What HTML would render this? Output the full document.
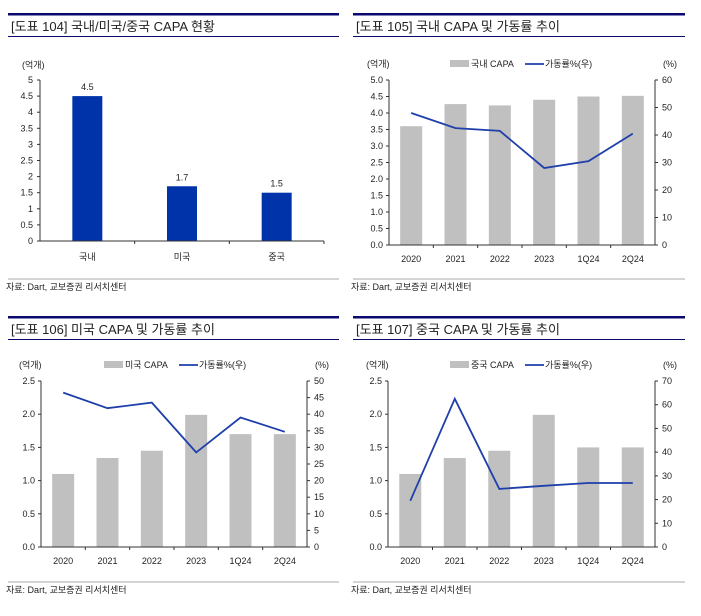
<!DOCTYPE html>
<html><head><meta charset="utf-8">
<style>
html,body{margin:0;padding:0;background:#fff;}
svg{display:block;font-family:"Liberation Sans","Noto Sans CJK KR",sans-serif;}
</style></head>
<body>
<svg id="s" width="701" height="616" viewBox="0 0 701 616"></svg>
<script>
// ---- data ----
const p1Categories = ["국내","미국","중국"];
const p1Values = [4.5,1.7,1.5];
const p1Ticks = ["0","0.5","1","1.5","2","2.5","3","3.5","4","4.5","5"];

const periods = ["2020","2021","2022","2023","1Q24","2Q24"];
const krCapa = [3.6,4.27,4.23,4.4,4.5,4.52];
const krRate = [48,42.5,41.5,28,30.5,40.5];
const usCapa = [1.1,1.34,1.45,1.99,1.7,1.7];
const usRate = [46.5,41.8,43.5,28.5,39,34.7];
const cnCapa = [1.1,1.34,1.45,1.99,1.5,1.5];
const cnRate = [19.5,62.5,24.5,25.8,27,27];
const leftTicks5 = ["0.0","0.5","1.0","1.5","2.0","2.5","3.0","3.5","4.0","4.5","5.0"];
const leftTicks25 = ["0.0","0.5","1.0","1.5","2.0","2.5"];
const rightTicks60 = ["0","10","20","30","40","50","60"];
const rightTicks50 = ["0","5","10","15","20","25","30","35","40","45","50"];
const rightTicks70 = ["0","10","20","30","40","50","60","70"];

const NS="http://www.w3.org/2000/svg";
const svg=document.getElementById('s');
function el(tag,attrs,parent,text){
  const e=document.createElementNS(NS,tag);
  for(const k in attrs)e.setAttribute(k,attrs[k]);
  if(text!==undefined)e.textContent=text;
  (parent||svg).appendChild(e);return e;
}
function txt(x,y,s,size,anchor,fill,name,g){
  const t=el('text',{x:x,y:y,'font-size':size,'text-anchor':anchor||'start',fill:fill||'#222'},g,s);
  
  
  return t;
}
function frame(x0,x1,yTop,title,name,sepY){
  const g=el('g',{});
  
  
  el('rect',{x:x0,y:yTop,width:x1-x0,height:2.5,fill:'#0a0a6e'},g);
  txt(x0+3,yTop+18,title,13,'start','#222','panel-title',g);
  el('line',{x1:x0,x2:x1,y1:yTop+23.5,y2:yTop+23.5,stroke:'#0a0a6e','stroke-width':1},g);
  el('line',{x1:x0,x2:x1,y1:sepY,y2:sepY,stroke:'#aaa','stroke-width':1},g);
  txt(x0-2,sepY+11,'자료: Dart, 교보증권 리서치센터',9,'start','#222','source-note',g);
  return g;
}

// ---- panel 1 ----
(function(){
  const g=frame(8,339,13,'[도표 104] 국내/미국/중국 CAPA 현황','panel-104',279);
  const L=40,R=324,T=80,B=241,max=5;
  const y=v=>B-(v/max)*(B-T);
  const band=(R-L)/p1Categories.length;
  txt(22,68,'(억개)',9,'start','#222','y-axis-unit',g);
  p1Ticks.forEach((t,i)=>{
    const v=parseFloat(t);
    el('line',{x1:L-3,x2:L,y1:y(v),y2:y(v),stroke:'#333'},g);
    txt(L-7,y(v)+3,t,9,'end','#222','y-tick-label',g);
  });
  p1Categories.forEach((c,i)=>{
    const cx=L+band*(i+0.5);
    const r=el('rect',{x:cx-15,y:y(p1Values[i]),width:30,height:B-y(p1Values[i]),fill:'#0033aa'},g);
    
    
    txt(cx,y(p1Values[i])-6,p1Values[i].toFixed(1),9,'middle','#222','bar-value-label',g);
    txt(cx,260,c,9,'middle','#222','x-tick-label',g);
    el('line',{x1:L+band*(i+1),x2:L+band*(i+1),y1:B,y2:B+3,stroke:'#333'},g);
  });
  el('line',{x1:L,x2:L,y1:T,y2:B,stroke:'#333'},g);
  el('line',{x1:L,x2:R,y1:B,y2:B,stroke:'#333'},g);
})();

// ---- combo panels ----
function combo(o){
  const g=frame(o.fx0,o.fx1,o.top,o.title,o.name,o.sep);
  const L=o.L,R=o.R,T=o.T,B=o.B;
  const yl=v=>B-(v/o.lmax)*(B-T);
  const yr=v=>B-(v/o.rmax)*(B-T);
  const band=(R-L)/periods.length;
  txt(L-22,T-13,'(억개)',9,'start','#222','y-axis-unit',g);
  txt(R+8,T-13,'(%)',9,'start','#222','y2-axis-unit',g);
  o.lt.forEach(t=>{const v=parseFloat(t);
    el('line',{x1:L-3,x2:L,y1:yl(v),y2:yl(v),stroke:'#333'},g);
    txt(L-6,yl(v)+3,t,9,'end','#222','y-tick-label',g);});
  o.rt.forEach(t=>{const v=parseFloat(t);
    el('line',{x1:R,x2:R+3,y1:yr(v),y2:yr(v),stroke:'#333'},g);
    txt(R+7,yr(v)+3,t,9,'start','#222','y2-tick-label',g);});
  periods.forEach((p,i)=>{
    const cx=L+band*(i+0.5);
    const r=el('rect',{x:cx-11,y:yl(o.capa[i]),width:22,height:B-yl(o.capa[i]),fill:'#c0c0c0'},g);
    
    
    txt(cx,B+17,p,9,'middle','#222','x-tick-label',g);
    if(i<periods.length-1)el('line',{x1:L+band*(i+1),x2:L+band*(i+1),y1:B,y2:B+3,stroke:'#333'},g);
  });
  const pts=o.rate.map((v,i)=>(L+band*(i+0.5)).toFixed(1)+','+yr(v).toFixed(1)).join(' ');
  const pl=el('polyline',{points:pts,fill:'none',stroke:'#1f3faa','stroke-width':1.8},g);
  
  
  el('line',{x1:L,x2:L,y1:T,y2:B,stroke:'#333'},g);
  el('line',{x1:R,x2:R,y1:T,y2:B,stroke:'#333'},g);
  el('line',{x1:L,x2:R,y1:B,y2:B,stroke:'#333'},g);
  // legend
  const lg=el('g',{},g);
  
  
  const lx=o.legX, ly=T-13;
  el('rect',{x:lx,y:ly-7,width:19,height:7,fill:'#c0c0c0'},lg);
  txt(lx+21,ly,o.capaLabel,9,'start','#222','legend-capa',lg);
  el('line',{x1:lx+75,x2:lx+94,y1:ly-3,y2:ly-3,stroke:'#1f3faa','stroke-width':1.8},lg);
  txt(lx+95,ly,'가동률%(우)',9,'start','#222','legend-rate',lg);
}
combo({fx0:353,fx1:685,top:13,sep:279,title:'[도표 105] 국내 CAPA 및 가동률 추이',name:'panel-105',
  L:389,R:655,T:80,B:245,lmax:5,rmax:60,lt:leftTicks5,rt:rightTicks60,capa:krCapa,rate:krRate,legX:450,capaLabel:'국내 CAPA'});
combo({fx0:8,fx1:339,top:316,sep:582,title:'[도표 106] 미국 CAPA 및 가동률 추이',name:'panel-106',
  L:41,R:307,T:381,B:547,lmax:2.5,rmax:50,lt:leftTicks25,rt:rightTicks50,capa:usCapa,rate:usRate,legX:104,capaLabel:'미국 CAPA'});
combo({fx0:353,fx1:685,top:316,sep:582,title:'[도표 107] 중국 CAPA 및 가동률 추이',name:'panel-107',
  L:388,R:655,T:381,B:547,lmax:2.5,rmax:70,lt:leftTicks25,rt:rightTicks70,capa:cnCapa,rate:cnRate,legX:450,capaLabel:'중국 CAPA'});
</script>
</body></html>
